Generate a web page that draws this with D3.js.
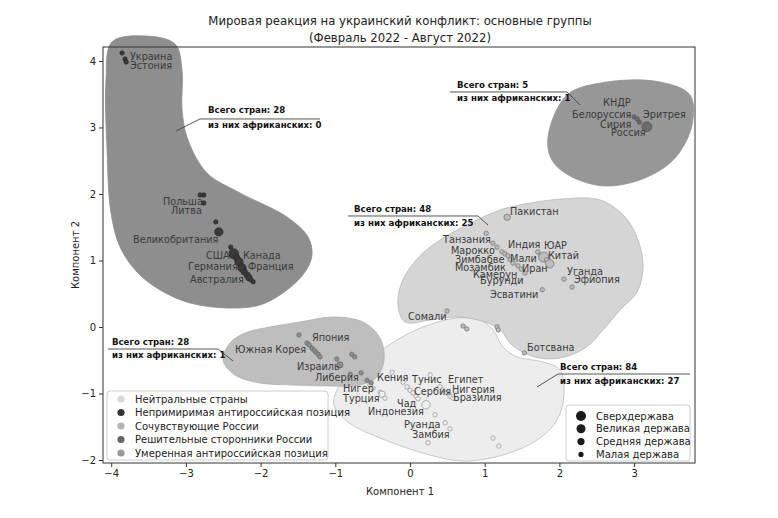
<!DOCTYPE html>
<html><head><meta charset="utf-8">
<script src="https://cdn.jsdelivr.net/npm/d3@7/dist/d3.min.js"></script>
<style>
body{margin:0;background:#fff;}
text{font-family:"DejaVu Sans",sans-serif;}
</style></head>
<body><svg id="c" width="778" height="518"></svg>
<script>
const titleLines = ["Мировая реакция на украинский конфликт: основные группы", "(Февраль 2022 - Август 2022)"];
const xLabel = "Компонент 1", yLabel = "Компонент 2";
const xTicks = [-4,-3,-2,-1,0,1,2,3];
const yTicks = [-2,-1,0,1,2,3,4];
const categories = ["Нейтральные страны","Непримиримая антироссийская позиция","Сочувствующие России","Решительные сторонники России","Умеренная антироссийская позиция"];
const powerLevels = ["Сверхдержава","Великая держава","Средняя держава","Малая держава"];

// points: [x, y, category index, power level index]
const groupA = [[-3.855,4.12,1,3],[-3.815,4.03,1,3],[-3.80,3.985,1,3],[-2.81,1.985,1,3],[-2.76,1.985,1,3],[-2.76,1.865,1,3],
 [-2.60,1.58,1,3],[-2.56,1.43,1,1],[-2.40,1.20,1,3],[-2.36,1.10,1,0],[-2.32,1.04,1,2],[-2.29,0.98,1,1],[-2.25,0.89,1,1],
 [-2.22,0.83,1,2],[-2.18,0.78,1,2],[-2.155,0.74,1,2],[-2.13,0.71,1,3],[-2.10,0.68,1,3]];
const groupB = [[3.00,3.16,3,3],[3.04,3.13,3,3],[3.07,3.08,3,3],[3.17,3.01,3,0]];
const groupC = [[1.30,1.65,2,2],[1.02,1.41,2,3],[1.11,1.26,2,3],[1.165,1.20,2,3],[1.23,1.13,2,3],[1.27,1.10,2,3],[1.31,1.07,2,3],
 [1.34,1.01,2,3],[1.38,0.96,2,3],[1.445,0.92,2,3],[1.49,0.87,2,3],[1.54,0.81,2,3],[1.71,1.13,2,3],[1.75,1.08,2,3],[1.79,1.05,2,0],
 [1.83,1.01,2,3],[1.87,0.95,2,1],[2.06,0.72,2,3],[2.17,0.60,2,3],[1.77,0.56,2,3],[0.495,0.24,2,3],[0.71,0.015,2,3],[0.76,-0.03,2,3],
 [1.165,0.0,2,3],[1.18,-0.045,2,3],[1.53,-0.39,2,3]];
const groupD = [[-0.24,-0.68,0,3],[-0.535,-0.87,0,3],[-0.495,-0.92,0,3],[-0.40,-0.98,0,3],[-0.375,-1.01,0,2],[-0.335,-1.07,0,3],
 [-0.094,-0.83,0,3],[-0.04,-0.90,0,3],[0.0,-0.95,0,3],[0.04,-0.99,0,3],[0.08,-1.04,0,3],[0.107,-1.08,0,3],[0.214,-1.17,0,1],
 [0.27,-0.72,0,3],[0.40,-0.90,0,3],[0.44,-0.95,0,3],[0.495,-0.99,0,3],[0.535,-1.04,0,3],[0.575,-1.07,0,3],[0.335,-1.32,0,3],
 [0.47,-1.44,0,3],[0.535,-1.53,0,3],[0.24,-1.74,0,3],[1.11,-1.67,0,3],[1.19,-1.79,0,3]];
const groupE = [[-1.486,-0.12,4,3],[-1.38,-0.24,4,3],[-1.35,-0.27,4,3],[-1.31,-0.32,4,3],[-1.285,-0.35,4,3],[-1.26,-0.38,4,3],
 [-1.23,-0.41,4,3],[-1.205,-0.45,4,3],[-0.78,-0.41,4,3],[-0.74,-0.45,4,3],[-0.98,-0.48,4,3],[-0.94,-0.57,4,2],[-0.80,-0.71,4,3],
 [-0.655,-0.69,4,3],[-0.575,-0.80,4,3],[-0.52,-0.84,4,3]];

// country labels: [text, x (start), y (centre)]
const countryLabels = [["Украина",-3.749,4.06],["Эстония",-3.749,3.925],["Польша",-3.307,1.88],["Литва",-3.2,1.744],
 ["Великобритания",-3.708,1.308],["США",-2.731,1.068],["Канада",-2.236,1.068],["Германия",-2.972,0.902],["Франция",-2.169,0.902],
 ["Австралия",-2.945,0.707],["КНДР",2.584,3.368],["Белоруссия",2.169,3.188],["Эритрея",3.119,3.188],["Сирия",2.543,3.038],
 ["Россия",2.691,2.917],["Пакистан",1.339,1.729],["Танзания",0.442,1.308],["Марокко",0.549,1.143],["Индия",1.312,1.233],
 ["ЮАР",1.794,1.218],["Китай",1.847,1.068],["Зимбабве",0.602,1.008],["Мали",1.339,1.023],["Мозамбик",0.602,0.887],
 ["Иран",1.499,0.872],["Камерун",0.843,0.782],["Бурунди",0.937,0.692],["Уганда",2.102,0.827],["Эфиопия",2.195,0.707],
 ["Эсватини",1.071,0.481],["Сомали",-0.027,0.15],["Ботсвана",1.566,-0.316],["Япония",-1.312,-0.165],["Южная Корея",-2.343,-0.346],
 ["Израиль",-1.513,-0.602],["Либерия",-1.272,-0.767],["Кения",-0.442,-0.767],["Нигер",-0.897,-0.932],["Турция",-0.897,-1.083],
 ["Тунис",0.027,-0.797],["Египет",0.509,-0.797],["Сербия",0.054,-0.977],["Нигерия",0.562,-0.947],["Бразилия",0.576,-1.068],
 ["Чад",-0.174,-1.158],["Индонезия",-0.562,-1.278],["Руанда",-0.08,-1.474],["Замбия",0.027,-1.624]];

// cluster outlines (data coords)
const hullA = [[-3.99,4.286],[-3.548,4.376],[-3.146,4.256],[-3.052,3.865],[-3.052,3.263],[-2.972,2.812],[-2.718,2.316],[-2.276,2.015],
 [-1.647,1.654],[-1.365,1.353],[-1.312,1.083],[-1.406,0.827],[-1.647,0.556],[-2.008,0.331],[-2.45,0.286],[-2.945,0.361],[-3.347,0.556],
 [-3.655,0.827],[-3.882,1.203],[-4.003,1.714],[-4.056,2.662],[-4.07,3.714]];
const hullB = [[1.847,2.857],[2.102,3.489],[2.637,3.684],[3.347,3.684],[3.748,3.489],[3.775,3.038],[3.548,2.541],[3.146,2.241],[2.61,2.12],[2.142,2.271],[1.90,2.511]];
const hullC = [[0.843,1.579],[1.205,1.759],[1.473,1.835],[2.048,1.925],[2.543,1.91],[2.878,1.654],[3.052,1.308],[3.119,0.902],[3.039,0.526],
 [2.811,0.256],[2.584,-0.045],[2.343,-0.316],[2.008,-0.466],[1.673,-0.451],[1.365,-0.271],[1.205,-0.045],[1.004,0.075],[0.629,0.15],
 [0.268,0.105],[-0.067,0.075],[-0.161,0.331],[-0.107,0.677],[0.107,1.038],[0.402,1.308]];
const hullD = [[-1.017,-1.173],[-0.977,-0.947],[-0.736,-0.677],[-0.469,-0.421],[-0.174,-0.195],[0.174,0.0],[0.629,0.135],[0.937,0.105],
 [1.111,-0.045],[1.245,-0.301],[1.432,-0.451],[1.78,-0.526],[2.008,-0.647],[2.062,-0.992],[1.968,-1.398],[1.70,-1.699],[1.245,-1.925],
 [0.71,-2.015],[0.268,-1.925],[-0.402,-1.669],[-0.83,-1.429]];
const hullE = [[-2.503,-0.496],[-2.41,-0.241],[-2.209,-0.09],[-1.874,0.0],[-1.473,0.075],[-1.031,0.15],[-0.629,0.075],[-0.402,-0.165],
 [-0.348,-0.496],[-0.442,-0.752],[-0.669,-0.872],[-1.071,-0.887],[-1.54,-0.872],[-2.008,-0.842],[-2.343,-0.722]];

// annotations: text lines, text anchor point, leader line points
const annotTexts = [["Всего стран: 28","из них африканских: 0"],["Всего стран: 5","из них африканских: 1"],["Всего стран: 48","из них африканских: 25"],
 ["Всего стран: 28","из них африканских: 1"],["Всего стран: 84","из них африканских: 27"]];
const annotTextPos = [[-2.704,3.263,3.038],[0.629,3.639,3.444],[-0.75,1.774,1.564],[-3.99,-0.226,-0.421],[2.008,-0.60,-0.812]];
const annotLines = [[[-3.133,2.947],[-2.811,3.128],[-1.205,3.128]],[[0.535,3.534],[2.102,3.534],[2.276,3.338]],
 [[-0.83,1.669],[0.91,1.669],[1.044,1.534]],[[-4.043,-0.331],[-2.57,-0.331],[-2.37,-0.511]],[[3.748,-0.707],[1.981,-0.707],[1.70,-0.902]]];

const svg = d3.select("#c");
const L=103,R=695,T=47,B=463;
const x = d3.scaleLinear().domain([-4.11,3.815]).range([L,R]);
const y = d3.scaleLinear().domain([-2.045,4.21]).range([B,T]);

const catFill = ["#f0f0f0","#3a3a3a","#bdbdbd","#6b6b6b","#8f8f8f"];
const catStroke = ["#8f8f8f","#2a2a2a","#6f6f6f","#555","#666"];
const legendFill = ["#d9d9d9","#333","#b3b3b3","#666","#999"];
const rSize = [5,4.2,3.2,2.2];

const line = d3.line().x(d=>x(d[0])).y(d=>y(d[1])).curve(d3.curveCatmullRomClosed.alpha(0.5));
const hulls = [[hullD,"#ededed","#bdbdbd"],[hullC,"#d5d5d5","#b5b5b5"],[hullE,"#bebebe","#b0b0b0"],[hullA,"#8e8e8e","#8e8e8e"],[hullB,"#979797","#979797"]];
svg.append("g").selectAll("path").data(hulls).join("path")
  .attr("d",d=>line(d[0])).attr("fill",d=>d[1]).attr("stroke",d=>d[2]).attr("stroke-width",0.8);

// frame
svg.append("rect").attr("x",L).attr("y",T).attr("width",R-L).attr("height",B-T).attr("fill","none").attr("stroke","#333").attr("stroke-width",1);

const xa = svg.append("g").attr("transform",`translate(0,${B})`).call(d3.axisBottom(x).tickValues(xTicks).tickSize(4).tickPadding(3).tickFormat(d=>d<0?"\u2212"+Math.abs(d):d));
const ya = svg.append("g").attr("transform",`translate(${L},0)`).call(d3.axisLeft(y).tickValues(yTicks).tickSize(4).tickPadding(3).tickFormat(d=>d<0?"\u2212"+Math.abs(d):d));
[xa,ya].forEach(a=>{a.select(".domain").remove();a.selectAll("line").attr("stroke","#333");a.selectAll("text").attr("font-size",10).attr("fill","#222").attr("font-family","DejaVu Sans");});

// points
const allPts = [].concat(groupA,groupB,groupC,groupD,groupE);
svg.append("g").selectAll("circle").data(allPts).join("circle")
  .attr("cx",d=>x(d[0])).attr("cy",d=>y(d[1])).attr("r",d=>rSize[d[3]])
  .attr("fill",d=>catFill[d[2]]).attr("stroke",d=>catStroke[d[2]]).attr("stroke-width",0.7);

// labels
svg.append("g").selectAll("text").data(countryLabels).join("text")
  .attr("x",d=>x(d[1])).attr("y",d=>y(d[2])).attr("dy","0.35em").attr("font-size",9.7).attr("fill","#3a3a3a").text(d=>d[0]);

// annotations
const ag = svg.append("g");
annotLines.forEach(pts=>{
  ag.append("path").attr("d",d3.line().x(d=>x(d[0])).y(d=>y(d[1]))(pts)).attr("fill","none").attr("stroke","#444").attr("stroke-width",0.9);
});
annotTexts.forEach((t,i)=>{
  const p=annotTextPos[i];
  ag.append("text").attr("x",x(p[0])).attr("y",y(p[1])).attr("dy","0.35em").attr("font-family","Liberation Sans").attr("font-weight","bold").attr("font-size",8.6).attr("fill","#111").text(t[0]);
  ag.append("text").attr("x",x(p[0])).attr("y",y(p[2])).attr("dy","0.35em").attr("font-family","Liberation Sans").attr("font-weight","bold").attr("font-size",8.6).attr("fill","#111").text(t[1]);
});

// legends
const lg = svg.append("g");
lg.append("rect").attr("x",107).attr("y",391).attr("width",221).attr("height",69).attr("rx",3).attr("fill","#fff").attr("fill-opacity",0.85).attr("stroke","#ccc");
categories.forEach((c,i)=>{
  const yy=399+i*13.5;
  lg.append("circle").attr("cx",121).attr("cy",yy).attr("r",3.6).attr("fill",legendFill[i]);
  lg.append("text").attr("x",135).attr("y",yy).attr("dy","0.35em").attr("font-size",10).attr("fill","#222").text(c);
});
const lg2 = svg.append("g");
lg2.append("rect").attr("x",566).attr("y",405).attr("width",124).attr("height",56).attr("rx",3).attr("fill","#fff").attr("fill-opacity",0.85).attr("stroke","#ccc");
const legR=[5,4.5,3.6,2.6];
powerLevels.forEach((c,i)=>{
  const yy=416+i*12.8;
  lg2.append("circle").attr("cx",581).attr("cy",yy).attr("r",legR[i]).attr("fill","#1a1a1a");
  lg2.append("text").attr("x",596).attr("y",yy).attr("dy","0.35em").attr("font-size",10).attr("fill","#222").text(c);
});

// titles
svg.append("text").attr("x",400).attr("y",21).attr("dy","0.35em").attr("text-anchor","middle").attr("font-size",11.7).attr("fill","#222").text(titleLines[0]);
svg.append("text").attr("x",400).attr("y",38).attr("dy","0.35em").attr("text-anchor","middle").attr("font-size",11.7).attr("fill","#222").text(titleLines[1]);
svg.append("text").attr("x",400).attr("y",491).attr("dy","0.35em").attr("text-anchor","middle").attr("font-size",10).attr("fill","#222").text(xLabel);
svg.append("text").attr("transform","translate(75,255) rotate(-90)").attr("dy","0.35em").attr("text-anchor","middle").attr("font-size",10).attr("fill","#222").text(yLabel);
</script></body></html>
